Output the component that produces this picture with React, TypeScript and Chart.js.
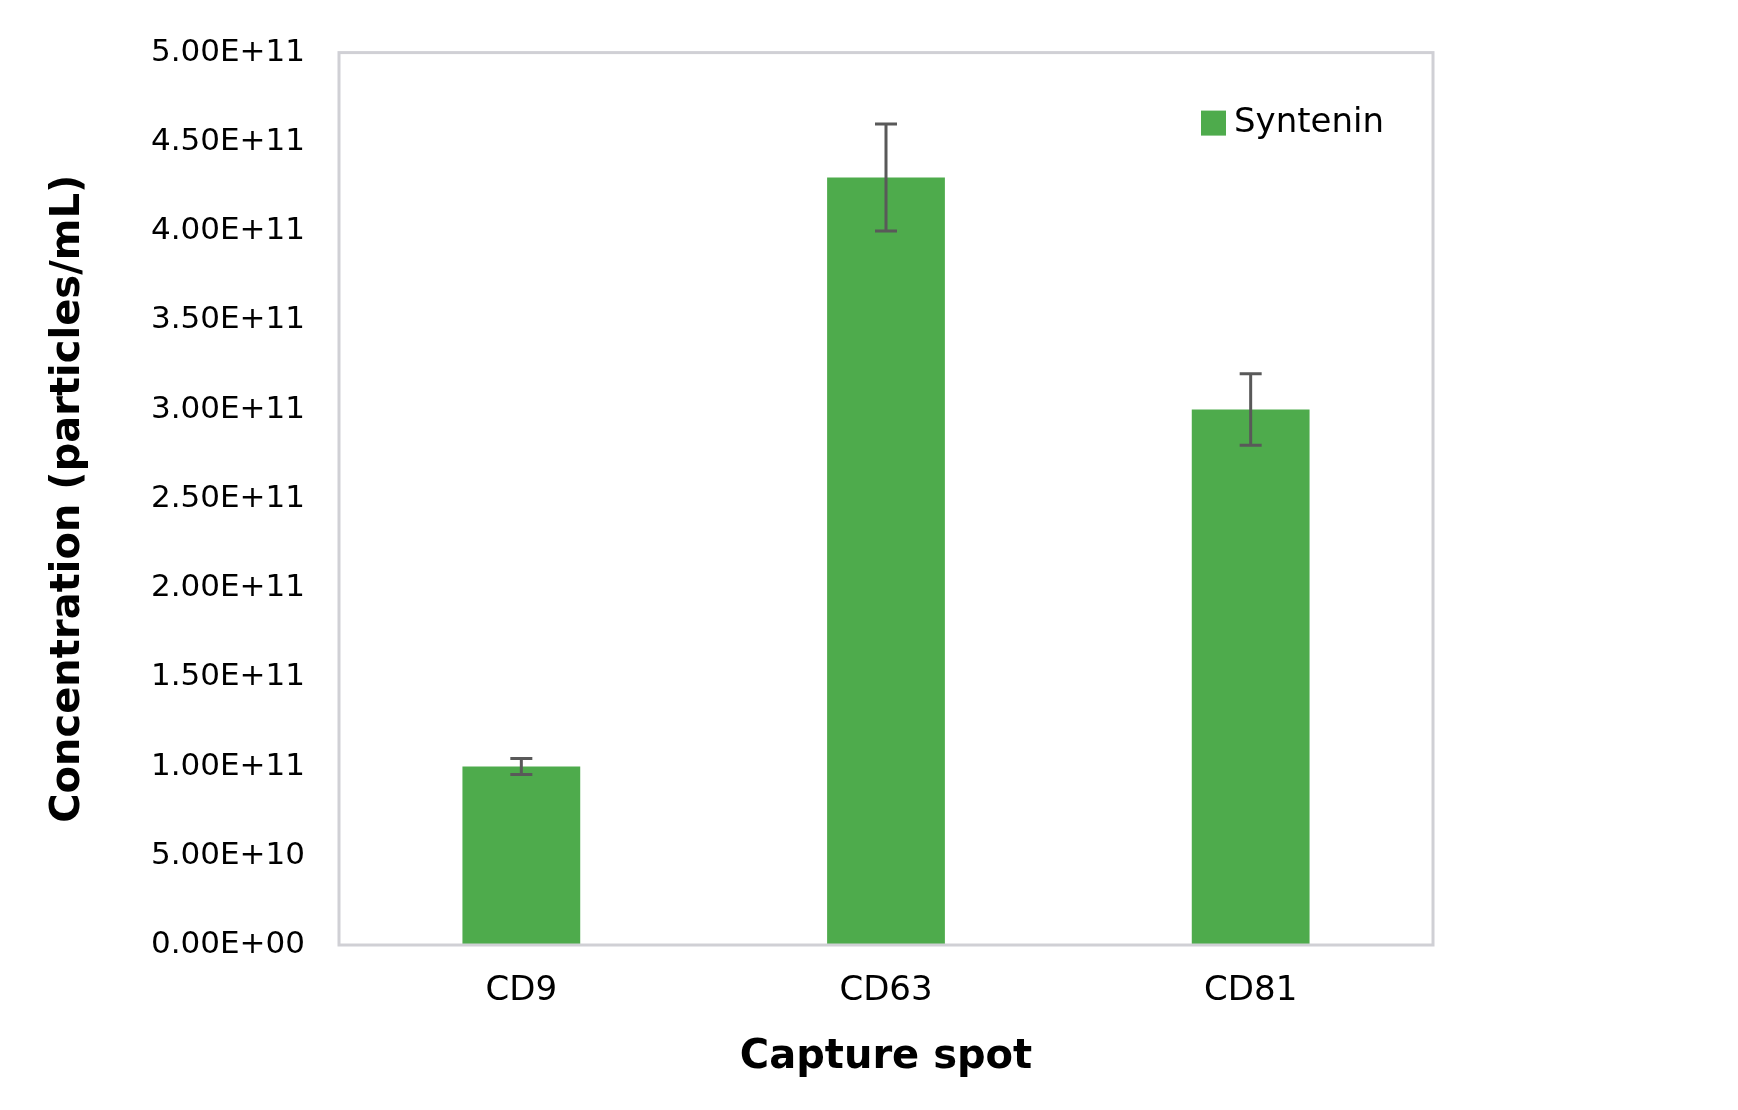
import { useEffect, useRef } from 'react';
import { Chart, registerables } from 'chart.js';

Chart.register(...registerables);

const categories = ['CD9', 'CD63', 'CD81'];
const synteninValues = [1.0e11, 4.3e11, 3.0e11];
const synteninErrors = [0.045e11, 0.3e11, 0.2e11];
const seriesLabel = 'Syntenin';
const yMin = 0;
const yMax = 5e11;
const yStep = 5e10;

const FONT = "'DejaVu Sans', sans-serif";
const GREEN = '#4EAB4C';
const FRAME = '#D0D0D5';

// 5e11 -> "5.00E+11", 0 -> "0.00E+00"
function sci(v: number) {
  if (v === 0) return '0.00E+00';
  const [m, e] = v.toExponential(2).split('e');
  const n = parseInt(e, 10);
  const sign = n < 0 ? '-' : '+';
  return m + 'E' + sign + String(Math.abs(n)).padStart(2, '0');
}

const errorBarsAndLegend = {
  id: 'errorBarsAndLegend',
  afterDatasetsDraw(chart: any) {
    const { ctx, chartArea } = chart;
    const y = chart.scales.y;
    const meta = chart.getDatasetMeta(0);

    // frame round the plot area
    ctx.save();
    ctx.strokeStyle = FRAME;
    ctx.lineWidth = 3;
    ctx.strokeRect(chartArea.left, chartArea.top, chartArea.right - chartArea.left, chartArea.bottom - chartArea.top);
    ctx.restore();

    // error bars
    ctx.save();
    ctx.strokeStyle = '#595959';
    ctx.lineWidth = 3;
    meta.data.forEach((bar: any, i: number) => {
      const v = synteninValues[i];
      const e = synteninErrors[i];
      const yTop = y.getPixelForValue(v + e);
      const yBot = y.getPixelForValue(v - e);
      const x = bar.x;
      ctx.beginPath();
      ctx.moveTo(x, yTop);
      ctx.lineTo(x, yBot);
      ctx.moveTo(x - 11, yTop);
      ctx.lineTo(x + 11, yTop);
      ctx.moveTo(x - 11, yBot);
      ctx.lineTo(x + 11, yBot);
      ctx.stroke();
    });
    ctx.restore();

    // legend, top right inside the plot
    ctx.save();
    const lx = chartArea.right - 232;
    const ly = chartArea.top + 58;
    ctx.fillStyle = GREEN;
    ctx.fillRect(lx, ly, 25, 25);
    ctx.fillStyle = '#000';
    ctx.font = `34px ${FONT}`;
    ctx.textBaseline = 'middle';
    ctx.textAlign = 'left';
    ctx.fillText(seriesLabel, lx + 33, ly + 13);
    ctx.restore();
  },
};

export default function App() {
  const chartRef = useRef<HTMLCanvasElement>(null);
  const chartInstance = useRef<Chart | null>(null);

  useEffect(() => {
    if (!chartRef.current) return;
    if (chartInstance.current) {
      chartInstance.current.destroy();
    }
    const ctx = chartRef.current.getContext('2d');
    if (!ctx) return;

    chartInstance.current = new Chart(ctx, {
      type: 'bar',
      data: {
        labels: categories,
        datasets: [
          {
            label: seriesLabel,
            data: synteninValues,
            backgroundColor: GREEN,
            borderWidth: 0,
            categoryPercentage: 1,
            barPercentage: 0.323,
          },
        ],
      },
      options: {
        animation: false,
        responsive: true,
        maintainAspectRatio: false,
        layout: {
          padding: { top: 48, right: 305, bottom: 0, left: 0 },
        },
        plugins: {
          legend: { display: false },
          tooltip: { enabled: false },
        },
        scales: {
          x: {
            grid: { display: false, drawTicks: false },
            border: { display: false },
            ticks: {
              color: '#000',
              padding: 26,
              font: { family: FONT, size: 34 },
            },
            title: {
              display: true,
              text: 'Capture spot',
              color: '#000',
              font: { family: FONT, size: 40, weight: 'bold' },
              padding: { top: 0, bottom: 28 },
            },
            afterFit: (scale: any) => {
              scale.height = 165;
            },
          },
          y: {
            min: yMin,
            max: yMax,
            grid: { display: false, drawTicks: false },
            border: { display: false },
            ticks: {
              stepSize: yStep,
              color: '#000',
              padding: 34,
              font: { family: FONT, size: 31 },
              callback: (value: any) => sci(Number(value)),
            },
            title: {
              display: true,
              text: 'Concentration (particles/mL)',
              color: '#000',
              font: { family: FONT, size: 40, weight: 'bold' },
              padding: { top: 45, bottom: 0 },
            },
            afterFit: (scale: any) => {
              scale.width = 339;
            },
          },
        },
      },
      plugins: [errorBarsAndLegend],
    });

    return () => {
      if (chartInstance.current) {
        chartInstance.current.destroy();
        chartInstance.current = null;
      }
    };
  }, []);

  return (
    <div style={{ position: 'absolute', left: 0, top: 0, width: 1738, height: 1110, background: '#fff' }}>
      <canvas ref={chartRef}></canvas>
    </div>
  );
}
